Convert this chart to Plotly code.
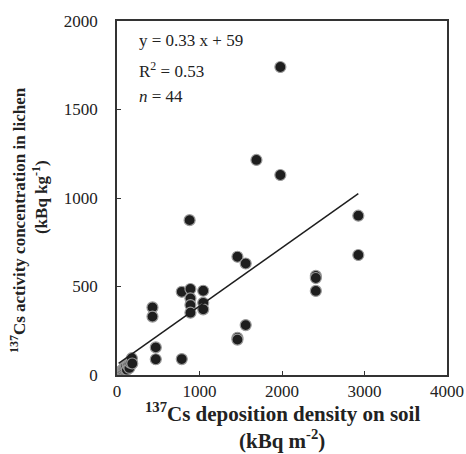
import plotly.graph_objects as go

# 137Cs deposition on soil (kBq m-2) vs concentration in lichen (kBq kg-1)
soil = [20, 35, 50, 60, 70, 80, 90, 100, 110, 120, 130, 140, 150, 160, 170, 180, 185,
        430, 430, 470, 470, 785, 785, 880, 890, 890, 890, 890,
        1045, 1045, 1045, 1460, 1460, 1460, 1560, 1560, 1690,
        1980, 1980, 2410, 2410, 2410, 2925, 2925]
lichen = [10, 15, 20, 25, 30, 35, 40, 45, 50, 30, 55, 60, 40, 70, 80, 95, 65,
          382, 330, 156, 89, 470, 90, 875, 486, 433, 395, 352,
          476, 408, 371, 668, 210, 200, 630, 282, 1215,
          1740, 1130, 560, 548, 475, 900, 678]
slope = 0.33
intercept = 59

fit_x = [min(soil), max(soil)]
fit_y = [slope * v + intercept for v in fit_x]

fig = go.Figure()
fig.add_trace(go.Scatter(x=soil, y=lichen, mode="markers",
                         marker=dict(size=11, color="#1e1e1e",
                                     line=dict(color="#9a9a9a", width=1.2)),
                         showlegend=False))
fig.add_trace(go.Scatter(x=fit_x, y=fit_y, mode="lines",
                         line=dict(color="#1e1e1e", width=1.5),
                         showlegend=False))

font = "Liberation Serif"
axis_common = dict(showgrid=False, zeroline=False, showline=True, linecolor="#333333",
                   linewidth=1.5, mirror=True, ticks="inside", ticklen=4, automargin=False,
                   tickcolor="#333333", tickfont=dict(family=font, size=17, color="#222222"))

fig.update_xaxes(range=[0, 4000], tickvals=[0, 1000, 2000, 3000, 4000], **axis_common)
fig.update_yaxes(range=[0, 2000], tickvals=[0, 500, 1000, 1500, 2000], ticklabelstandoff=14,
                 **axis_common)

# axis titles as annotations so each line sits where the reference has it
title_x = dict(family=font, size=21, color="#222222", weight="bold")
title_y = dict(family=font, size=17, color="#222222", weight="bold")
fig.add_annotation(x=0.5, y=-0.107, xref="paper", yref="paper", yanchor="middle",
                   text="<sup>137</sup>Cs deposition density on soil", showarrow=False, font=title_x)
fig.add_annotation(x=0.5, y=-0.181, xref="paper", yref="paper", yanchor="middle",
                   text="(kBq m<sup>-2</sup>)", showarrow=False, font=title_x)
fig.add_annotation(x=-0.3, y=0.438, xref="paper", yref="paper", xanchor="center", yanchor="middle",
                   textangle=-90, text="<sup>137</sup>Cs activity concentration in lichen",
                   showarrow=False, font=title_y)
fig.add_annotation(x=-0.233, y=0.503, xref="paper", yref="paper", xanchor="center", yanchor="middle",
                   textangle=-90, text="(kBq kg<sup>-1</sup>)", showarrow=False, font=title_y)

ann_font = dict(family=font, size=17, color="#222222")
fig.add_annotation(x=0.06, y=0.946, xref="paper", yref="paper", xanchor="left", yanchor="middle",
                   text="y = 0.33 x + 59", showarrow=False, font=ann_font)
fig.add_annotation(x=0.06, y=0.862, xref="paper", yref="paper", xanchor="left", yanchor="middle",
                   text="R<sup>2</sup> = 0.53", showarrow=False, font=ann_font)
fig.add_annotation(x=0.06, y=0.788, xref="paper", yref="paper", xanchor="left", yanchor="middle",
                   text="<i>n</i> = 44", showarrow=False, font=ann_font)

fig.update_layout(width=466, height=454, margin=dict(l=117, r=19, t=21, b=79, autoexpand=False),
                  plot_bgcolor="white", paper_bgcolor="white")

fig.write_html("out.html", config={"displayModeBar": False},
               post_script="document.body.style.margin='0';document.body.style.overflow='hidden';")
